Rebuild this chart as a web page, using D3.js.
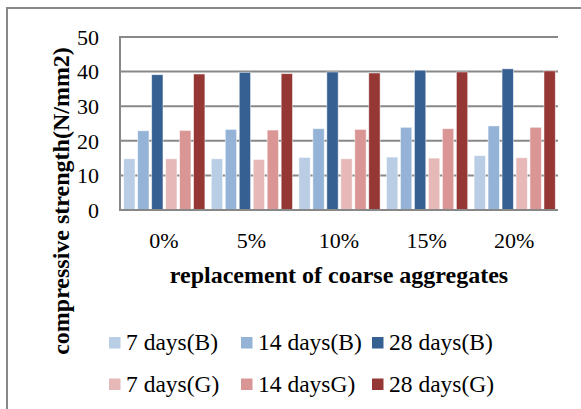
<!DOCTYPE html>
<html>
<head>
<meta charset="utf-8">
<script src="https://cdn.jsdelivr.net/npm/d3@7"></script>
<style>
  html, body { margin: 0; padding: 0; background: #fff; }
  svg { display: block; }
</style>
</head>
<body>
<svg id="chart"></svg>
<script>
// Chart size
const width = 581;
const height = 409;
const serif = '"Liberation Serif"';

// Data
const categories = ["0%", "5%", "10%", "15%", "20%"];
const seriesNames = ["7 days(B)", "14 days(B)", "28 days(B)", "7 days(G)", "14 daysG)", "28 days(G)"];
const seriesColors = ["#b9cde5", "#95b3d7", "#376092", "#e6b9b8", "#d99694", "#953735"];
const days7B = [14.8, 14.8, 15.2, 15.3, 15.7];
const days14B = [22.9, 23.3, 23.5, 23.9, 24.3];
const days28B = [39.1, 39.8, 39.9, 40.4, 40.8];
const days7G = [14.8, 14.6, 14.8, 15.0, 15.1];
const days14G = [23.0, 23.1, 23.3, 23.5, 23.9];
const days28G = [39.3, 39.4, 39.6, 39.9, 40.2];
const yTicks = [0, 10, 20, 30, 40, 50];

const seriesValues = [days7B, days14B, days28B, days7G, days14G, days28G];

// Plot box
const plot = { left: 120, right: 558, top: 37, bottom: 210 };

const svg = d3.select("#chart")
    .attr("width", width)
    .attr("height", height)
    .style("font-family", serif);

// Outer frame (top + left edges visible)
svg.append("path")
    .attr("d", `M7,${height} L7,8 L${width},8`)
    .attr("fill", "none")
    .attr("stroke", "#888")
    .attr("stroke-width", 2);

// Scales
const x0 = d3.scaleBand()
    .domain(categories)
    .range([plot.left, plot.right])
    .paddingInner(0)
    .paddingOuter(0);

const x1 = d3.scaleBand()
    .domain(d3.range(seriesNames.length))
    .range([3, x0.bandwidth() - 2])
    .paddingInner(0.19)
    .paddingOuter(0.05);

const y = d3.scaleLinear()
    .domain([0, 50])
    .range([plot.bottom, plot.top]);

// Gridlines
svg.append("g")
    .selectAll("line")
    .data(yTicks.filter(d => d > 0))
    .enter().append("line")
    .attr("x1", plot.left)
    .attr("x2", plot.right)
    .attr("y1", d => y(d))
    .attr("y2", d => y(d))
    .attr("stroke", "#888")
    .attr("stroke-width", 2);

// Bars
const groups = svg.append("g")
    .selectAll("g")
    .data(categories)
    .enter().append("g")
    .attr("transform", d => `translate(${x0(d)},0)`);

groups.selectAll("rect")
    .data((c, ci) => seriesValues.map((vals, si) => ({ si, v: vals[ci] })))
    .enter().append("rect")
    .attr("x", d => x1(d.si))
    .attr("width", x1.bandwidth())
    .attr("y", d => y(d.v))
    .attr("height", d => y(0) - y(d.v))
    .attr("fill", d => seriesColors[d.si])
    .attr("stroke", "#fff")
    .attr("stroke-opacity", 0.6)
    .attr("stroke-width", 0.8);

// Axes lines
svg.append("line")
    .attr("x1", plot.left).attr("x2", plot.left)
    .attr("y1", plot.top - 1).attr("y2", plot.bottom + 1)
    .attr("stroke", "#888").attr("stroke-width", 2);
svg.append("line")
    .attr("x1", plot.left - 1).attr("x2", plot.right)
    .attr("y1", plot.bottom).attr("y2", plot.bottom)
    .attr("stroke", "#888").attr("stroke-width", 2);

// Y tick labels
svg.append("g")
    .selectAll("text")
    .data(yTicks)
    .enter().append("text")
    .attr("x", 99)
    .attr("y", d => y(d))
    .attr("dy", "0.35em")
    .attr("text-anchor", "end")
    .style("font-family", serif)
    .attr("font-size", 22)
    .attr("fill", "#000")
    .text(d => d);

// X tick labels
svg.append("g")
    .selectAll("text")
    .data(categories)
    .enter().append("text")
    .attr("x", d => x0(d) + x0.bandwidth() / 2)
    .attr("y", 248)
    .attr("text-anchor", "middle")
    .style("font-family", serif)
    .attr("font-size", 22)
    .attr("fill", "#000")
    .text(d => d);

// Axis titles
svg.append("text")
    .attr("x", (plot.left + plot.right) / 2)
    .attr("y", 283)
    .attr("text-anchor", "middle")
    .style("font-family", serif)
    .attr("font-size", 24)
    .attr("font-weight", "bold")
    .text("replacement of coarse aggregates");

svg.append("text")
    .attr("transform", "translate(69,201) rotate(-90)")
    .attr("text-anchor", "middle")
    .style("font-family", serif)
    .attr("font-size", 24)
    .attr("font-weight", "bold")
    .text("compressive strength(N/mm2)");

// Legend
const legendX = [109, 241, 372];
const legendY = [350, 391.5];
const legend = svg.append("g")
    .selectAll("g")
    .data(seriesNames)
    .enter().append("g")
    .attr("transform", (d, i) => `translate(${legendX[i % 3]},${legendY[Math.floor(i / 3)]})`);

legend.append("rect")
    .attr("x", 0)
    .attr("y", -13)
    .attr("width", 11.5)
    .attr("height", 11.5)
    .attr("fill", (d, i) => seriesColors[i]);

legend.append("text")
    .attr("x", 17)
    .attr("y", 0)
    .style("font-family", serif)
    .attr("font-size", 23.5)
    .attr("fill", "#000")
    .text(d => d);
</script>
</body>
</html>
